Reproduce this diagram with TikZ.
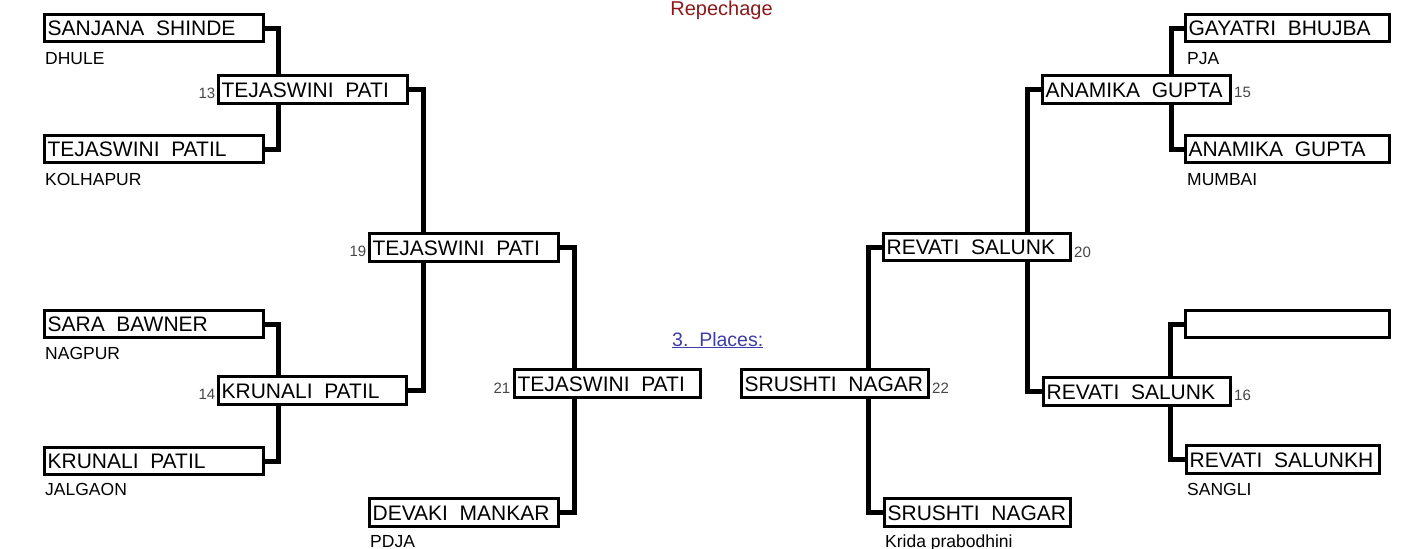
\documentclass[tikz,border=0pt]{standalone}
\usepackage{fontspec}
\setmainfont{Liberation Sans}
\pgfdeclarelayer{bg}
\pgfsetlayers{bg,main}
\definecolor{repred}{RGB}{139,26,26}
\definecolor{linkblue}{RGB}{60,60,170}
\definecolor{numgray}{RGB}{70,70,70}
\tikzset{
  nbox/.style={draw=black, line width=3.2pt, fill=white, inner xsep=3pt, inner ysep=0pt,
    text height=15pt, text depth=0pt, font=\fontsize{21}{21}\selectfont, anchor=center},
  club/.style={anchor=west, inner sep=0pt, text height=12.5pt, text depth=0pt,
    font=\fontsize{17.5}{17.5}\selectfont},
  numl/.style={inner sep=0pt, text height=11pt, text depth=0pt, text=numgray,
    font=\fontsize{15}{15}\selectfont},
  conn/.style={line width=5pt, line join=miter, draw=black},
}
\newcommand\bx[6]{%
  \pgfmathsetmacro\bxw{#4-#2-3.2}%
  \pgfmathsetmacro\bxh{#5-#3-3.2}%
  \pgfmathsetmacro\bxt{#4-#2-3.2-6}%
  \pgfmathsetmacro\bxcx{(#2+#4)/2}%
  \pgfmathsetmacro\bxcy{(#3+#5)/2}%
  \node[nbox, minimum width=\bxw pt, minimum height=\bxh pt] (#1) at (\bxcx,\bxcy) {\makebox[\bxt pt][l]{#6}};%
}
\begin{document}
\begin{tikzpicture}[x=1pt,y=-1pt]
\useasboundingbox (0,0) rectangle (1401,549);

% title
\node[anchor=base, inner sep=0pt, text=repred, font=\fontsize{20}{20}\selectfont] (rep) at (721.5,15.5) {Repechage};
\node[anchor=base west, inner sep=0pt, text=linkblue, font=\fontsize{19.5}{19.5}\selectfont] (pl) at (672,346) {\underline{3.\ \ Places:}};

% left side, round 1
\bx{a1}{43}{13}{265}{43}{SANJANA\ \ SHINDE}
\bx{a2}{43}{134}{265}{164}{TEJASWINI\ \ PATIL}
\bx{a3}{43}{309}{265}{339}{SARA\ \ BAWNER}
\bx{a4}{43}{446}{265}{476}{KRUNALI\ \ PATIL}
\node[club] (la1) at (45,58) {DHULE};
\node[club] (la2) at (45,179) {KOLHAPUR};
\node[club] (la3) at (45,353) {NAGPUR};
\node[club] (la4) at (45,489) {JALGAON};

% left side, later rounds
\bx{b13}{217}{74}{409}{105}{TEJASWINI\ \ PATI}
\bx{b14}{217}{375}{408}{406}{KRUNALI\ \ PATIL}
\bx{b19}{368}{232}{560}{263}{TEJASWINI\ \ PATI}
\bx{b21}{513}{368}{702}{399}{TEJASWINI\ \ PATI}
\bx{dm}{368}{497}{560}{528}{DEVAKI\ \ MANKAR}
\node[club] (ldm) at (370,541) {PDJA};

\node[numl, anchor=south east] (n13) at ([xshift=-1.5pt,yshift=6pt]b13.south west) {13};
\node[numl, anchor=south east] (n14) at ([xshift=-1.5pt,yshift=6pt]b14.south west) {14};
\node[numl, anchor=south east] (n19) at ([xshift=-1.5pt,yshift=6pt]b19.south west) {19};
\node[numl, anchor=south east] (n21) at ([xshift=-2.5pt,yshift=5pt]b21.south west) {21};

% right side, round 1
\bx{c1}{1184}{13}{1391}{43}{GAYATRI\ \ BHUJBA}
\bx{c2}{1184}{134}{1391}{164}{ANAMIKA\ \ GUPTA}
\bx{c3}{1184}{309}{1391}{339}{}
\bx{c4}{1185}{444}{1381}{475}{REVATI\ \ SALUNKH}
\node[club] (lc1) at (1187,58) {PJA};
\node[club] (lc2) at (1187,179) {MUMBAI};
\node[club] (lc4) at (1187,489) {SANGLI};

% right side, later rounds
\bx{b15}{1041}{74}{1232}{105}{ANAMIKA\ \ GUPTA}
\bx{b16}{1042}{376}{1232}{407}{REVATI\ \ SALUNK}
\bx{b20}{882}{232}{1072}{262}{REVATI\ \ SALUNK}
\bx{b22}{740}{368}{930}{399}{SRUSHTI\ \ NAGAR}
\bx{sn}{883}{497}{1072}{528}{SRUSHTI\ \ NAGAR}
\node[club] (lsn) at (885,541) {Krida prabodhini};

\node[numl, anchor=south west] (n15) at ([xshift=2pt,yshift=7pt]b15.south east) {15};
\node[numl, anchor=south west] (n16) at ([xshift=2pt,yshift=6pt]b16.south east) {16};
\node[numl, anchor=south west] (n20) at ([xshift=2pt,yshift=4.5pt]b20.south east) {20};
\node[numl, anchor=south west] (n22) at ([xshift=2pt,yshift=5pt]b22.south east) {22};

% connectors
\begin{pgfonlayer}{bg}
\draw[conn] (a1.east) -- ++(13,0) |- (a2.east);
\draw[conn] (a3.east) -- ++(13,0) |- (a4.east);
\draw[conn] (b13.east) -- ++(14,0) |- (b14.east);
\draw[conn] (b19.east) -- ++(14,0) |- (dm.east);
\draw[conn] (c1.west) -- ++(-13,0) |- (c2.west);
\draw[conn] (c3.west) -- ++(-14,0) |- (c4.west);
\draw[conn] (b15.west) -- ++(-14,0) |- (b16.west);
\draw[conn] (b20.west) -- ++(-14,0) |- (sn.west);
\end{pgfonlayer}
\end{tikzpicture}
\end{document}
